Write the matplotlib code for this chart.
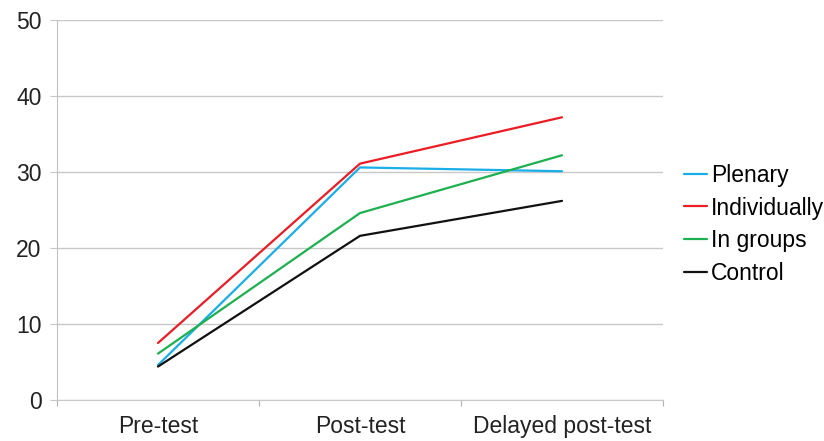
import numpy as np
import matplotlib.pyplot as plt

plt.rcParams['font.family'] = ['Liberation Sans', 'DejaVu Sans']

# ─── Data ───────────────────────────────────────────────────────────
phases     = ["Pre-test", "Post-test", "Delayed post-test"]
plenary    = [4.6, 30.6, 30.1]
individual = [7.5, 31.1, 37.2]
groups     = [6.1, 24.6, 32.2]
control    = [4.4, 21.6, 26.2]

series = [("Plenary", plenary, "#1aaee8"),
          ("Individually", individual, "#ec1c24"),
          ("In groups", groups, "#1db04f"),
          ("Control", control, "#111111")]
# ────────────────────────────────────────────────────────────────────

fig = plt.figure(figsize=(8.24, 4.41), dpi=100)
ax = fig.add_axes([57 / 824, 41 / 441, 606 / 824, 380 / 441])

x = np.arange(len(phases))
for name, vals, col in series:
    ax.plot(x, vals, color=col, lw=1.6, label=name, solid_capstyle='round')

ax.set_xlim(-0.5, len(phases) - 0.5)
ax.set_ylim(0, 50)
ax.set_yticks(np.arange(0, 51, 10))
ax.yaxis.grid(True, color="#c8c8c8", lw=1)
ax.set_axisbelow(True)

# category boundaries get the ticks, labels sit in the middle
ax.set_xticks(np.arange(-0.5, len(phases)), minor=False)
ax.set_xticklabels([])
ax.set_xticks(x, minor=True)
ax.set_xticklabels(phases, minor=True)
ax.tick_params(axis='x', which='major', length=4, color="#b0b0b0")
ax.tick_params(axis='x', which='minor', length=0, labelsize=16.5, pad=11,
               labelcolor="#222222")
ax.tick_params(axis='y', length=5, color="#c8c8c8", labelsize=16.5, pad=6,
               labelcolor="#222222")

for s in ["top", "right"]:
    ax.spines[s].set_visible(False)
ax.spines["left"].set_color("#c0c0c0")
ax.spines["bottom"].set_color("#c8c8c8")

ax.legend(loc="center left", bbox_to_anchor=(1.02, 0.462), frameon=False,
          fontsize=16.5, handlelength=1.0, handletextpad=0.15,
          labelspacing=0.43, borderaxespad=0)

fig.savefig("out.png", dpi=100)
